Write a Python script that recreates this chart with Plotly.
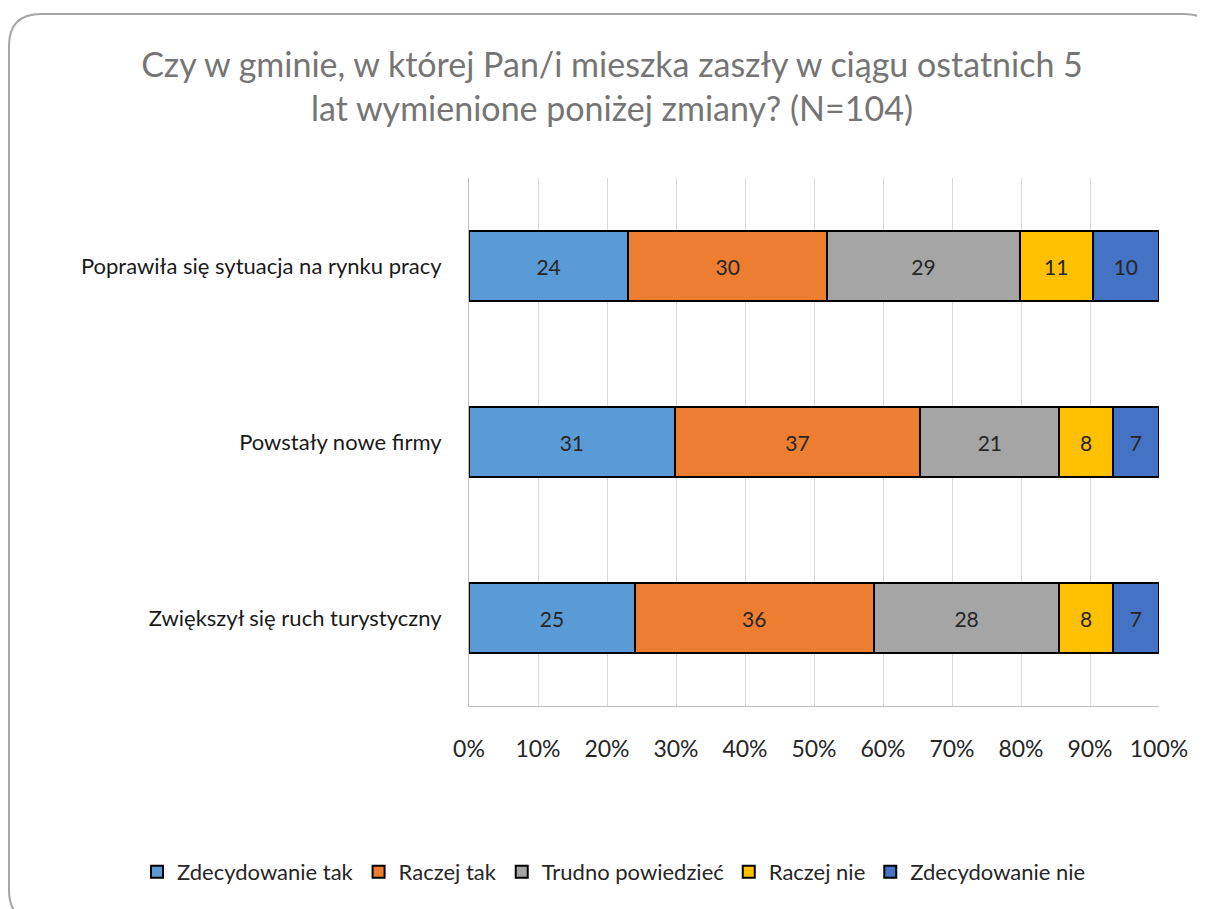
import plotly.graph_objects as go

# ---------------------------------------------------------------------------
# Data (counts, N=104)
# ---------------------------------------------------------------------------
categories = [
    "Poprawiła się sytuacja na rynku pracy",
    "Powstały nowe firmy",
    "Zwiększył się ruch turystyczny",
]
series_names = [
    "Zdecydowanie tak",
    "Raczej tak",
    "Trudno powiedzieć",
    "Raczej nie",
    "Zdecydowanie nie",
]
zdecydowanie_tak = [24, 31, 25]
raczej_tak = [30, 37, 36]
trudno_powiedziec = [29, 21, 28]
raczej_nie = [11, 8, 8]
zdecydowanie_nie = [10, 7, 7]

series_values = [zdecydowanie_tak, raczej_tak, trudno_powiedziec, raczej_nie, zdecydowanie_nie]
colors = ["#5B9BD5", "#ED7D31", "#A5A5A5", "#FFC000", "#4472C4"]

FONT = "Lato"
OFF = 8                      # page body margin
W, H = 1205 - OFF, 909 - OFF
# plot area in page pixels
L, R, T, B = 469, 1159, 178, 706


def px(x):
    return (x - L) / (R - L)


def py(y):
    return (B - y) / (B - T)


fig = go.Figure()
for name, vals, col in zip(series_names, series_values, colors):
    fig.add_trace(go.Bar(
        y=categories,
        x=vals,
        name=name,
        orientation="h",
        marker=dict(color=col, line=dict(color="#000000", width=2)),
        text=[str(v) for v in vals],
        textposition="inside",
        insidetextanchor="middle",
        textangle=0,
        textfont=dict(family=FONT, size=21, color="#262626"),
        constraintext="none",
    ))

# rounded frame around the chart (page pixel coords converted to paper)
x0, y0, x1, y1, r = 9, 14, 1216, 922, 32
path = (
    f"M {px(x0 + r)},{py(y0)} L {px(x1 - r)},{py(y0)} "
    f"Q {px(x1)},{py(y0)} {px(x1)},{py(y0 + r)} "
    f"L {px(x1)},{py(y1 - r)} Q {px(x1)},{py(y1)} {px(x1 - r)},{py(y1)} "
    f"L {px(x0 + r)},{py(y1)} Q {px(x0)},{py(y1)} {px(x0)},{py(y1 - r)} "
    f"L {px(x0)},{py(y0 + r)} Q {px(x0)},{py(y0)} {px(x0 + r)},{py(y0)} Z"
)

fig.update_layout(
    width=W,
    height=H,
    barmode="stack",
    barnorm="percent",
    bargap=0.6,
    paper_bgcolor="white",
    plot_bgcolor="white",
    margin=dict(l=L - OFF, r=W - (R - OFF), t=T - OFF, b=H - (B - OFF)),
    font=dict(family=FONT, color="#262626"),
    title=dict(
        text="Czy w gminie, w której Pan/i mieszka zaszły w ciągu ostatnich 5<br>lat wymienione poniżej zmiany? (N=104)",
        font=dict(family=FONT, size=34, color="#757575"),
        x=(612 - OFF) / W, xref="container", xanchor="center",
        y=1 - (77 - OFF) / H, yref="container", yanchor="top",
    ),
    legend=dict(
        orientation="h",
        x=px(137), xref="paper", xanchor="left",
        y=py(872), yref="paper", yanchor="middle",
        font=dict(family=FONT, size=22, color="#262626"),
        traceorder="normal",
        itemwidth=30,
    ),
    shapes=[dict(
        type="path", path=path, xref="paper", yref="paper",
        line=dict(color="#A6A6A6", width=2), layer="below",
    )],
    showlegend=True,
)

fig.update_xaxes(
    range=[0, 100],
    dtick=10,
    ticksuffix="%",
    showgrid=True,
    gridcolor="#D9D9D9",
    gridwidth=1,
    showline=True,
    linecolor="#BFBFBF",
    linewidth=1,
    zeroline=False,
    tickfont=dict(family=FONT, size=23, color="#262626"),
    ticks="",
    ticklabelstandoff=22,
    fixedrange=True,
)
fig.update_yaxes(
    autorange="reversed",
    showline=True,
    linecolor="#BFBFBF",
    linewidth=1,
    showgrid=False,
    ticks="",
    ticklabelstandoff=22,
    tickfont=dict(family=FONT, size=22, color="#1A1A1A"),
    fixedrange=True,
)

fig.write_html("out.html")
